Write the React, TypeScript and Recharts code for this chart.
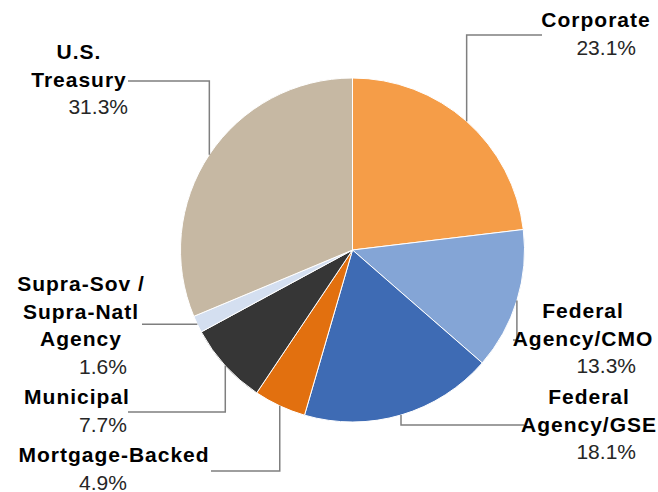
import { PieChart, Pie, Cell } from "recharts";

const categories = [
  "Corporate",
  "Federal\nAgency/CMO",
  "Federal\nAgency/GSE",
  "Mortgage-Backed",
  "Municipal",
  "Supra-Sov /\nSupra-Natl\nAgency",
  "U.S.\nTreasury",
];
const shares = [23.1, 13.3, 18.1, 4.9, 7.7, 1.6, 31.3];
const colors = ["#F59D48", "#84A5D6", "#3E6BB4", "#E2700F", "#363636", "#D4DFF0", "#C6B8A3"];

// hand-placed label boxes (Excel-style leader lines)
const labelLayout = [
  { elbowY: 35, endX: 542, nameX: 596, pctX: 636, y: 27 },
  { elbowY: 340, endX: 513, nameX: 583, pctX: 636, y: 318 },
  { elbowY: 425, endX: 524, nameX: 589, pctX: 636, y: 404 },
  { elbowY: 471, endX: 211, nameX: 114, pctX: 127, y: 462 },
  { elbowY: 412, endX: 128, nameX: 77, pctX: 127, y: 404 },
  { elbowY: null, endX: 142, nameX: 81, pctX: 127, y: 291 },
  { elbowY: 81, endX: 128, nameX: 79, pctX: 128, y: 59 },
];

const data = categories.map((name, i) => ({ name, value: shares[i] }));
const RAD = Math.PI / 180;
const LH = 27.6;
const font = "'Liberation Sans', Arial, sans-serif";

const renderLabel = (p: any) => {
  const L = labelLayout[p.index];
  if (!L) return null;
  const sx = p.cx + p.outerRadius * Math.cos(-p.midAngle * RAD);
  const sy = p.cy + p.outerRadius * Math.sin(-p.midAngle * RAD);
  const ey = L.elbowY == null ? sy : L.elbowY;
  const lines = String(p.name).split("\n");
  return (
    <g key={`lbl-${p.index}`}>
      <path d={`M${sx},${sy} L${sx},${ey} L${L.endX},${ey}`} stroke="#7F7F7F" strokeWidth={1.5} fill="none" />
      {lines.map((t, k) => (
        <text key={k} x={L.nameX} y={L.y + k * LH} textAnchor="middle" fontFamily={font} fontSize={21}
          fontWeight="bold" letterSpacing={1} fill="#000">{t}</text>
      ))}
      <text x={L.pctX} y={L.y + lines.length * LH} textAnchor="end" fontFamily={font} fontSize={21} fill="#262626">
        {Number(p.value).toFixed(1)}%
      </text>
    </g>
  );
};

export default function App() {
  return (
    <div style={{ position: "fixed", left: 0, top: 0, background: "#fff" }}>
      <PieChart width={658} height={492} margin={{ top: 0, right: 0, bottom: 0, left: 0 }}>
        <Pie data={data} dataKey="value" nameKey="name" cx={352.5} cy={250} outerRadius={172}
          startAngle={90} endAngle={-270} stroke="#fff" strokeWidth={1} isAnimationActive={false}
          label={renderLabel} labelLine={false}>
          {data.map((d, i) => <Cell key={d.name} fill={colors[i]} />)}
        </Pie>
      </PieChart>
    </div>
  );
}
